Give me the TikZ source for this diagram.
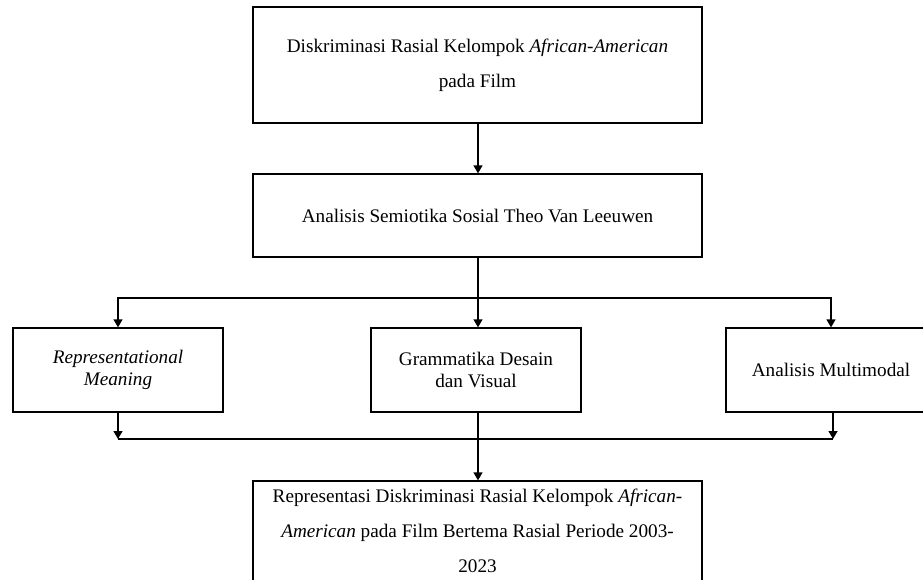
\documentclass[tikz,border=0pt]{standalone}
\usepackage{fontspec}
\setmainfont{Liberation Serif}
\usetikzlibrary{arrows.meta}
\begin{document}
\begin{tikzpicture}[x=1pt,y=-1pt,
  box/.style={draw, line width=1.3pt, rectangle, inner sep=0pt, align=center},
  big/.style={font=\fontsize{19.2}{35}\selectfont},
  small/.style={font=\fontsize{19.2}{22.5}\selectfont},
  conn/.style={line width=1.3pt},
  arr/.style={conn, -{Triangle[width=9pt,length=8pt]}}]
\useasboundingbox (0,0) rectangle (923,579);
% boxes
\node[box, big, minimum width=449pt, minimum height=116pt] (top) at (477.5,65)
  {Diskriminasi Rasial Kelompok \textit{African-American}\\pada Film};
\node[box, big, minimum width=449pt, minimum height=83pt] (mid) at (477.5,215.5)
  {Analisis Semiotika Sosial Theo Van Leeuwen};
\node[box, small, minimum width=210pt, minimum height=84pt] (lm) at (118,370)
  {\textit{Representational}\\\textit{Meaning}};
\node[box, small, minimum width=210pt, minimum height=84pt] (mm) at (476,370)
  {Grammatika Desain\\dan Visual};
\node[box, small, minimum width=210pt, minimum height=84pt] (rm) at (831,370)
  {Analisis Multimodal};
\node[box, minimum width=449pt, minimum height=124pt] (out) at (477.5,543) {};
\node[big, align=center, inner sep=0pt] (outtext) at (477.5,531)
  {Representasi Diskriminasi Rasial Kelompok \textit{African-}\\\textit{American} pada Film Bertema Rasial Periode 2003-\\2023};
% connectors
\coordinate (split) at (478,298);
\coordinate (join) at (478,439);
\draw[arr] (top.south -| split) -- (mid.north -| split);
\draw[conn] (mid.south -| split) -- (split);
\draw[arr] (split) -- (split |- mm.north);
\draw[arr] (split) -| (lm.north);
\draw[arr] (split) -| (rm.north);
\draw[arr] (lm.south) -- (lm.south |- join);
\draw[arr] ([xshift=2pt]rm.south) -- ([xshift=2pt]rm.south |- join);
\draw[conn] (lm.south |- join) -- ([xshift=2pt]rm.south |- join);
\draw[arr] (mm.south -| split) -- (out.north -| split);
\end{tikzpicture}
\end{document}
